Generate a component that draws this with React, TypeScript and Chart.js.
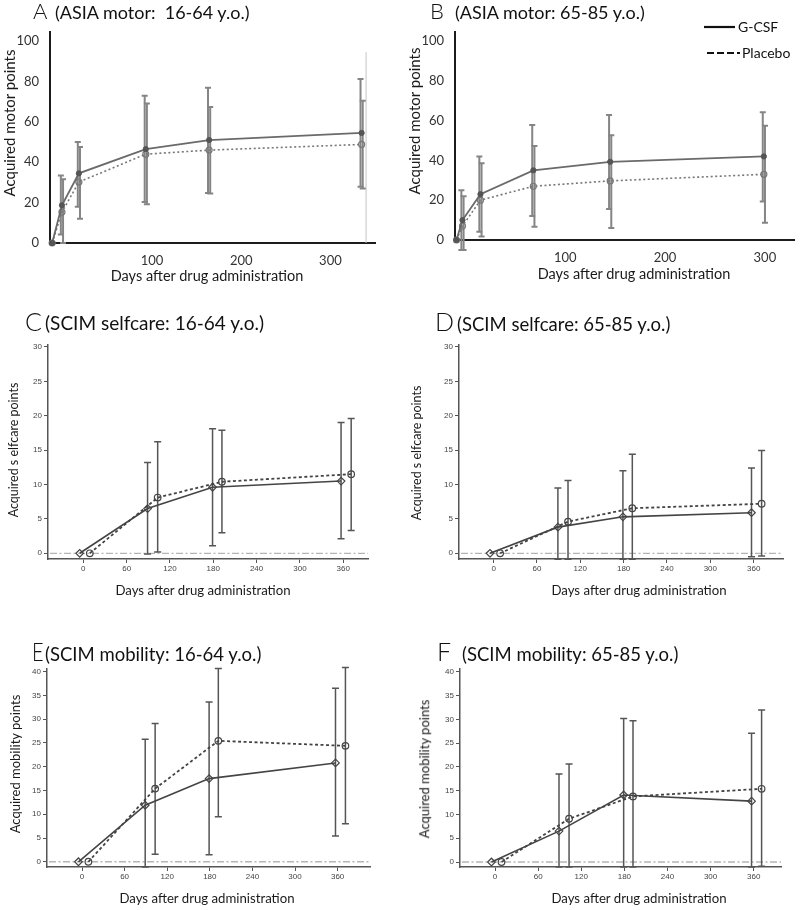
import React, { useEffect, useRef } from 'react';
import { Chart, registerables } from 'chart.js';
Chart.register(...registerables);

// ---------------- DATA ----------------
// Panel A: ASIA motor 16-64 y.o.
const daysA = [-12, -1, 18, 93, 164, 335];
const gcsfA = [0, 18.7, 34.5, 46.5, 51, 54.5];
const gcsfA_hi = [null, 33.4, 50, 72.9, 76.9, 81.2];
const gcsfA_lo = [null, 4.2, 18, 20.3, 24.8, 27.8];
const placeboA = [0, 15.3, 30.2, 44, 46, 48.8];
const placeboA_hi = [null, 31.6, 47.5, 69.1, 67.4, 70.4];
const placeboA_lo = [null, 0, 12, 19.2, 24.5, 27];

// Panel B: ASIA motor 65-85 y.o.
const daysB = [-9, -3, 15, 68, 145, 299];
const gcsfB = [0, 10, 23, 35, 39.3, 42];
const gcsfB_hi = [null, 25, 42, 57.8, 62.8, 64.2];
const gcsfB_lo = [null, -5, 4.2, 12.1, 15.6, 19.4];
const placeboB = [0, 7, 20, 27, 29.7, 33];
const placeboB_hi = [null, 22, 38.5, 47.2, 52.6, 57.4];
const placeboB_lo = [null, -5, 1.7, 6.7, 6.0, 8.7];

// SCIM panels: measurement days (groups slightly offset)
const scimDaysG = [-5, 89, 179, 357];
const scimDaysP = [9, 103, 192, 371];

// Panel C: SCIM selfcare 16-64 y.o.
const gcsfC = [0, 6.5, 9.6, 10.5];
const gcsfC_hi = [null, 13.2, 18.1, 19.0];
const gcsfC_lo = [null, -0.1, 1.1, 2.1];
const placeboC = [0, 8.1, 10.4, 11.5];
const placeboC_hi = [null, 16.2, 17.9, 19.6];
const placeboC_lo = [null, 0.2, 3.0, 3.3];

// Panel D: SCIM selfcare 65-85 y.o.
const gcsfD = [0, 3.8, 5.3, 5.9];
const gcsfD_hi = [null, 9.5, 12.0, 12.4];
const gcsfD_lo = [null, -0.85, -0.85, -0.5];
const placeboD = [0, 4.6, 6.55, 7.2];
const placeboD_hi = [null, 10.6, 14.4, 14.95];
const placeboD_lo = [null, -0.85, -0.85, -0.4];

// Panel E: SCIM mobility 16-64 y.o.
const gcsfE = [0, 11.9, 17.5, 20.8];
const gcsfE_hi = [null, 25.8, 33.6, 36.5];
const gcsfE_lo = [null, -1.1, 1.5, 5.4];
const placeboE = [0, 15.4, 25.45, 24.4];
const placeboE_hi = [null, 29.1, 40.7, 40.9];
const placeboE_lo = [null, 1.6, 9.45, 8.0];

// Panel F: SCIM mobility 65-85 y.o.
const gcsfF = [0, 6.5, 14.1, 12.8];
const gcsfF_hi = [null, 18.5, 30.2, 27.1];
const gcsfF_lo = [null, -1.05, -1.05, -1.05];
const placeboF = [0, 9.1, 13.8, 15.4];
const placeboF_hi = [null, 20.6, 29.7, 31.95];
const placeboF_lo = [null, -1.05, -1.05, -0.9];

// Tick labels
const motorXTicks = [100, 200, 300];
const motorYTicks = [0, 20, 40, 60, 80, 100];
const scimXTicks = [0, 60, 120, 180, 240, 300, 360];
const selfcareYTicks = [0, 5, 10, 15, 20, 25, 30];
const mobilityYTicks = [0, 5, 10, 15, 20, 25, 30, 35, 40];

const seriesNames = ['G-CSF', 'Placebo'];
const xTitle = 'Days after drug administration';

// ---------------- STYLE / LAYOUT ----------------
const FONT = "Lato, 'Open Sans', sans-serif";
const STATA_FONT = "'Liberation Sans', Arial, sans-serif";

type Spec = {
  id: string;
  box: number[]; // canvas left, top, width, height (page px)
  area: number[]; // chart area left, top, right, bottom (page px)
  xRange: number[];
  yRange: number[];
  xTicks: number[];
  yTicks: number[];
  motor: boolean;
  gx: number[]; px: number[];
  g: number[]; gHi: (number | null)[]; gLo: (number | null)[];
  p: number[]; pHi: (number | null)[]; pLo: (number | null)[];
  refLine?: { x: number; y0: number; y1: number };
};

const specs: Spec[] = [
  {
    id: 'A', box: [0, 0, 400, 300], area: [50, 32, 375, 243],
    xRange: [-14.4, 350], yRange: [0, 104.5], xTicks: motorXTicks, yTicks: motorYTicks, motor: true,
    gx: daysA, px: daysA, g: gcsfA, gHi: gcsfA_hi, gLo: gcsfA_lo, p: placeboA, pHi: placeboA_hi, pLo: placeboA_lo,
    refLine: { x: 340, y0: 0, y1: 94.5 },
  },
  {
    id: 'B', box: [400, 0, 400, 300], area: [455, 32, 795, 240],
    xRange: [-10.5, 330], yRange: [0, 104.5], xTicks: motorXTicks, yTicks: motorYTicks, motor: true,
    gx: daysB, px: daysB, g: gcsfB, gHi: gcsfB_hi, gLo: gcsfB_lo, p: placeboB, pHi: placeboB_hi, pLo: placeboB_lo,
  },
  {
    id: 'C', box: [0, 300, 400, 300], area: [48, 345, 368, 559],
    xRange: [-48.9, 394.3], yRange: [-0.83, 30.28], xTicks: scimXTicks, yTicks: selfcareYTicks, motor: false,
    gx: scimDaysG, px: scimDaysP, g: gcsfC, gHi: gcsfC_hi, gLo: gcsfC_lo, p: placeboC, pHi: placeboC_hi, pLo: placeboC_lo,
  },
  {
    id: 'D', box: [400, 300, 400, 300], area: [459, 345, 783, 559],
    xRange: [-47.9, 400.6], yRange: [-0.83, 30.28], xTicks: scimXTicks, yTicks: selfcareYTicks, motor: false,
    gx: scimDaysG, px: scimDaysP, g: gcsfD, gHi: gcsfD_hi, gLo: gcsfD_lo, p: placeboD, pHi: placeboD_hi, pLo: placeboD_lo,
  },
  {
    id: 'E', box: [0, 600, 400, 310], area: [47, 669, 370, 867],
    xRange: [-49.3, 405.6], yRange: [-1.1, 40.57], xTicks: scimXTicks, yTicks: mobilityYTicks, motor: false,
    gx: scimDaysG, px: scimDaysP, g: gcsfE, gHi: gcsfE_hi, gLo: gcsfE_lo, p: placeboE, pHi: placeboE_hi, pLo: placeboE_lo,
  },
  {
    id: 'F', box: [400, 600, 400, 310], area: [460, 669, 781, 867],
    xRange: [-48.8, 398], yRange: [-1.05, 40.6], xTicks: scimXTicks, yTicks: mobilityYTicks, motor: false,
    gx: scimDaysG, px: scimDaysP, g: gcsfF, gHi: gcsfF_hi, gLo: gcsfF_lo, p: placeboF, pHi: placeboF_hi, pLo: placeboF_lo,
  },
];

function buildChart(canvas: HTMLCanvasElement, s: Spec) {
  const [bl, bt, bw, bh] = s.box;
  const [L, T, R, B] = s.area;
  const yWidth = L - bl;
  const xHeight = bt + bh - B;
  const padTop = T - bt;
  const padRight = bl + bw - R;
  const m = s.motor;

  const pts = (xs: number[], ys: number[]) => xs.map((x, i) => ({ x, y: ys[i] }));

  const overlay = {
    id: 'overlay' + s.id,
    beforeDatasetsDraw(chart: any) {
      const { ctx, chartArea, scales } = chart;
      const xs = scales.x;
      const ys = scales.y;
      ctx.save();
      if (!m) {
        ctx.strokeStyle = '#b5b5b5';
        ctx.lineWidth = 1.3;
        ctx.setLineDash([7, 2.5, 2, 2.5]);
        const y0 = ys.getPixelForValue(0);
        ctx.beginPath();
        ctx.moveTo(chartArea.left + 2, y0);
        ctx.lineTo(chartArea.right, y0);
        ctx.stroke();
        ctx.setLineDash([]);
      }
      if (s.refLine) {
        ctx.strokeStyle = '#c4c4c4';
        ctx.lineWidth = 1;
        const px = xs.getPixelForValue(s.refLine.x);
        ctx.beginPath();
        ctx.moveTo(px, ys.getPixelForValue(s.refLine.y0));
        ctx.lineTo(px, ys.getPixelForValue(s.refLine.y1));
        ctx.stroke();
      }
      const bars = [
        { x: s.gx, lo: s.gLo, hi: s.gHi, off: m ? -1.1 : 0 },
        { x: s.px, lo: s.pLo, hi: s.pHi, off: m ? 1.1 : 0 },
      ];
      ctx.strokeStyle = m ? '#858585' : '#555555';
      ctx.lineWidth = m ? 2 : 1.5;
      const cap = m ? 3 : 3.5;
      bars.forEach((b) => {
        b.x.forEach((xv, i) => {
          const lo = b.lo[i];
          const hi = b.hi[i];
          if (lo == null || hi == null) return;
          const px = xs.getPixelForValue(xv) + b.off;
          const p1 = ys.getPixelForValue(lo);
          const p2 = ys.getPixelForValue(hi);
          ctx.beginPath();
          ctx.moveTo(px, p1);
          ctx.lineTo(px, p2);
          ctx.moveTo(px - cap, p1);
          ctx.lineTo(px + cap, p1);
          ctx.moveTo(px - cap, p2);
          ctx.lineTo(px + cap, p2);
          ctx.stroke();
        });
      });
      ctx.restore();
    },
  };

  const tickFont = m ? { family: FONT, size: 13 } : { family: STATA_FONT, size: 8 };
  const tickColor = m ? '#333' : '#444';
  const axisColor = m ? '#1c1c1c' : '#555';

  const gridOpts = m
    ? { display: false }
    : { display: true, drawOnChartArea: false, drawTicks: true, tickLength: 4, color: '#555', lineWidth: 1 };

  const gDs: any = m
    ? {
        label: seriesNames[0], data: pts(s.gx, s.g), showLine: true, borderColor: '#6a6a6a', borderWidth: 1.8,
        pointRadius: 2.6, pointBackgroundColor: '#555', pointBorderColor: '#555', pointBorderWidth: 1, clip: 8,
      }
    : {
        label: seriesNames[0], data: pts(s.gx, s.g), showLine: true, borderColor: '#444', borderWidth: 1.6,
        pointStyle: 'rectRot', pointRadius: 3.8, pointBackgroundColor: 'rgba(0,0,0,0)', pointBorderColor: '#444',
        pointBorderWidth: 1.2, clip: 8,
      };
  const pDs: any = m
    ? {
        label: seriesNames[1], data: pts(s.px, s.p), showLine: true, borderColor: '#777', borderWidth: 1.6,
        borderDash: [2, 2.5], pointRadius: 3, pointBackgroundColor: 'rgba(0,0,0,0)', pointBorderColor: '#777',
        pointBorderWidth: 1.2, clip: 8,
      }
    : {
        label: seriesNames[1], data: pts(s.px, s.p), showLine: true, borderColor: '#444', borderWidth: 1.8,
        borderDash: [3, 2.5], pointStyle: 'circle', pointRadius: 3.3, pointBackgroundColor: 'rgba(0,0,0,0)',
        pointBorderColor: '#444', pointBorderWidth: 1.2, clip: 8,
      };

  return new Chart(canvas, {
    type: 'scatter',
    data: { datasets: [gDs, pDs] },
    options: {
      animation: false,
      responsive: false,
      maintainAspectRatio: false,
      events: [],
      layout: { padding: { top: padTop, right: padRight, left: 0, bottom: 0 } },
      plugins: { legend: { display: false }, tooltip: { enabled: false }, title: { display: false } },
      scales: {
        x: {
          type: 'linear',
          bounds: 'data',
          min: s.xRange[0],
          max: s.xRange[1],
          afterBuildTicks: (sc: any) => { sc.ticks = s.xTicks.map((v) => ({ value: v })); },
          afterFit: (sc: any) => { sc.height = xHeight; },
          grid: gridOpts as any,
          border: { display: true, color: axisColor, width: m ? 2 : 1.5 },
          ticks: { font: tickFont, color: tickColor, padding: m ? 2 : 1, maxRotation: 0, autoSkip: false },
        },
        y: {
          type: 'linear',
          bounds: 'data',
          min: s.yRange[0],
          max: s.yRange[1],
          afterBuildTicks: (sc: any) => { sc.ticks = s.yTicks.map((v) => ({ value: v })); },
          afterFit: (sc: any) => { sc.width = yWidth; },
          grid: gridOpts as any,
          border: { display: true, color: axisColor, width: m ? 2 : 1.5 },
          ticks: { font: tickFont, color: tickColor, padding: m ? 3 : 2, autoSkip: false },
        },
      },
    },
    plugins: [overlay],
  });
}

function Panel({ spec }: { spec: Spec }) {
  const ref = useRef<HTMLCanvasElement>(null);
  useEffect(() => {
    if (!ref.current) return;
    const c = buildChart(ref.current, spec);
    return () => c.destroy();
  }, [spec]);
  const [l, t, w, h] = spec.box;
  return (
    <canvas
      ref={ref}
      width={w}
      height={h}
      style={{ position: 'absolute', left: l, top: t, width: w, height: h }}
    />
  );
}

// text helpers
function Txt({ x, y, size, children, center = true, rotate = false, color = '#1a1a1a' }: any) {
  return (
    <div
      style={{
        position: 'absolute',
        left: x,
        top: y,
        fontFamily: FONT,
        fontSize: size,
        lineHeight: 1.2,
        color,
        whiteSpace: 'nowrap',
        transform: center ? `translate(-50%, -50%)${rotate ? ' rotate(-90deg)' : ''}` : undefined,
      }}
    >
      {children}
    </div>
  );
}

function Title({ letter, text, lx, tx, base, lSize, tSize, lScale = 1 }: any) {
  const asc = 0.987;
  return (
    <>
      <div style={{ position: 'absolute', left: lx, top: base - asc * lSize, fontFamily: FONT, fontSize: lSize, fontWeight: 300, lineHeight: 1.2, color: '#111', whiteSpace: 'nowrap', transform: `scaleX(${lScale})`, transformOrigin: 'left center' }}>{letter}</div>
      <div style={{ position: 'absolute', left: tx, top: base - asc * tSize, fontFamily: FONT, fontSize: tSize, lineHeight: 1.2, color: '#111', whiteSpace: 'pre' }}>{text}</div>
    </>
  );
}

export default function App() {
  return (
    <div style={{ position: 'absolute', left: 0, top: 0, width: 800, height: 910, background: '#fff', overflow: 'hidden' }}>
      {specs.map((s) => (
        <Panel key={s.id} spec={s} />
      ))}

      <Title letter="A" text="(ASIA motor:  16-64 y.o.)" lx={33} tx={55} base={20} lSize={22} tSize={18} />
      <Title letter="B" text="(ASIA motor: 65-85 y.o.)" lx={430} tx={455} base={20} lSize={22} tSize={18} />
      <Title letter="C" text="(SCIM selfcare: 16-64 y.o.)" lx={25} tx={45} base={331} lSize={25} tSize={19} />
      <Title letter="D" text="(SCIM selfcare: 65-85 y.o.)" lx={435} tx={457} base={331} lSize={25} tSize={18.5} />
      <Title letter="E" text="(SCIM mobility: 16-64 y.o.)" lx={32} tx={45} base={661} lSize={25} tSize={18.5} lScale={0.8} />
      <Title letter="F" text="(SCIM mobility: 65-85 y.o.)" lx={437} tx={462} base={661} lSize={25} tSize={18.5} />

      <Txt x={9} y={123} size={15} rotate>Acquired motor points</Txt>
      <Txt x={414} y={121} size={15} rotate>Acquired motor points</Txt>
      <Txt x={13} y={450} size={12.5} rotate>Acquired s elfcare points</Txt>
      <Txt x={416} y={453} size={12.5} rotate>Acquired s elfcare points</Txt>
      <Txt x={16} y={764} size={13} rotate>Acquired mobility points</Txt>
      <Txt x={425} y={769} size={13} rotate>Acquired mobility points</Txt>

      <Txt x={207} y={276} size={14.5}>{xTitle}</Txt>
      <Txt x={634} y={274} size={14.5}>{xTitle}</Txt>
      <Txt x={203} y={591} size={13.2}>{xTitle}</Txt>
      <Txt x={639} y={591} size={13.2}>{xTitle}</Txt>
      <Txt x={207} y={899} size={13.2}>{xTitle}</Txt>
      <Txt x={639} y={899} size={13.2}>{xTitle}</Txt>

      <svg style={{ position: 'absolute', left: 700, top: 18, width: 45, height: 45 }} width={45} height={45}>
        <line x1={4} y1={9} x2={35} y2={9} stroke="#111" strokeWidth={2.2} />
        <line x1={7} y1={35} x2={40} y2={35} stroke="#111" strokeWidth={2.2} strokeDasharray="7 3" />
      </svg>
      <div style={{ position: 'absolute', left: 738, top: 27, transform: 'translateY(-50%)', fontFamily: FONT, fontSize: 14, lineHeight: 1.2, color: '#111' }}>{seriesNames[0]}</div>
      <div style={{ position: 'absolute', left: 742, top: 53, transform: 'translateY(-50%)', fontFamily: FONT, fontSize: 14, lineHeight: 1.2, color: '#111' }}>{seriesNames[1]}</div>
    </div>
  );
}
